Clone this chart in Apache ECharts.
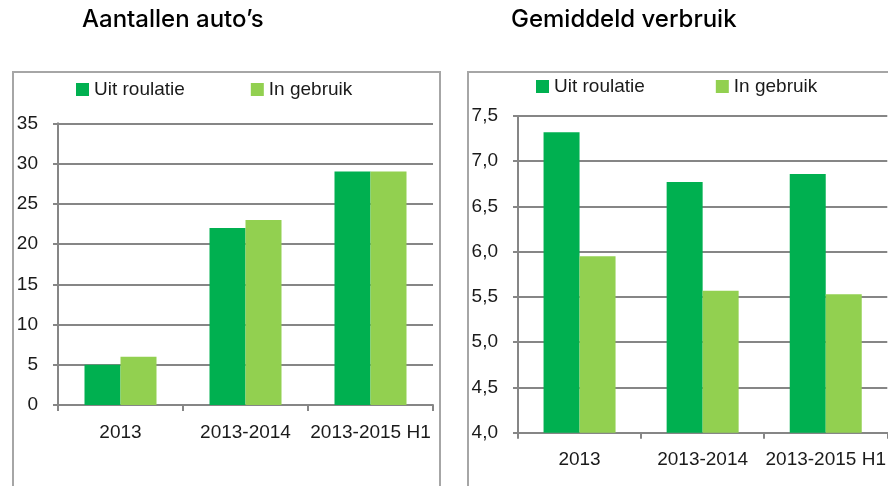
<!DOCTYPE html>
<html><head><meta charset="utf-8">
<script src="https://cdn.jsdelivr.net/npm/echarts@6/dist/echarts.min.js"></script>
<style>html,body{margin:0;padding:0;background:#fff}#c{width:888px;height:486px}</style>
</head><body><div id="c"></div>
<script>
const categories = ['2013', '2013-2014', '2013-2015 H1'];
const seriesNames = ['Uit roulatie', 'In gebruik'];
const countOut = [5, 22, 29];
const countIn = [6, 23, 29];
const useOut = [7.32, 6.77, 6.86];
const useIn = [5.95, 5.57, 5.53];
const titles = ['Aantallen auto’s', 'Gemiddeld verbruik'];

const FONT = '"Liberation Sans", Arial, sans-serif';
const TFONT = 'Inter, "Liberation Sans", sans-serif';
const DARK = '#00B050', LIGHT = '#92D050';
const AX = '#868686', TXT = '#1a1a1a';

const chart = echarts.init(document.getElementById('c'), null, {renderer: 'canvas'});

function xAxis(gi) {
  return {
    type: 'category', gridIndex: gi, data: categories,
    axisLine: {lineStyle: {color: AX, width: 2}},
    axisTick: {show: true, length: 6, lineStyle: {color: AX, width: 2}},
    axisLabel: {color: TXT, fontSize: 19, fontFamily: FONT, margin: 18, interval: 0}
  };
}
function yAxis(gi, min, max, interval, fmt) {
  return {
    type: 'value', gridIndex: gi, min, max, interval,
    axisLine: {show: true, lineStyle: {color: AX, width: 2}},
    axisTick: {show: true, length: 5, lineStyle: {color: AX, width: 2}},
    splitLine: {show: true, lineStyle: {color: AX, width: 2}},
    axisLabel: {color: TXT, fontSize: 19, fontFamily: FONT, margin: 20, formatter: fmt}
  };
}
function bar(name, data, gi, color) {
  return {
    name, type: 'bar', xAxisIndex: gi, yAxisIndex: gi, data,
    barWidth: 36, barGap: '0%', itemStyle: {color}, animation: false
  };
}

chart.setOption({
  animation: false,
  textStyle: {fontFamily: FONT},
  title: [
    {text: titles[0], left: 82, top: 8, padding: 0, textStyle: {fontSize: 24, fontWeight: 500, color: '#000', fontFamily: TFONT}},
    {text: titles[1], left: 511, top: 8, padding: 0, textStyle: {fontSize: 24, fontWeight: 500, color: '#000', fontFamily: TFONT}}
  ],
  graphic: [
    {type: 'rect', shape: {x: 13, y: 72, width: 427, height: 430}, style: {fill: 'none', stroke: '#a6a6a6', lineWidth: 2}, silent: true, z: -1},
    {type: 'rect', shape: {x: 468, y: 72, width: 440, height: 430}, style: {fill: 'none', stroke: '#a6a6a6', lineWidth: 2}, silent: true, z: -1}
  ],
  legend: [
    {data: seriesNames, left: 76, top: 80, padding: 0, icon: 'rect', itemWidth: 13, itemHeight: 13, itemGap: 66,
     textStyle: {fontSize: 19, color: TXT, fontFamily: FONT}},
    {data: seriesNames, left: 536, top: 77, padding: 0, icon: 'rect', itemWidth: 13, itemHeight: 13, itemGap: 71,
     textStyle: {fontSize: 19, color: TXT, fontFamily: FONT}}
  ],
  grid: [
    {left: 58, top: 123.3, width: 375, height: 281.7, containLabel: false},
    {left: 518, top: 116, width: 375, height: 316.7, containLabel: false}
  ],
  xAxis: [xAxis(0), xAxis(1)],
  yAxis: [
    yAxis(0, 0, 35, 5, v => String(v)),
    yAxis(1, 4, 7.5, 0.5, v => v.toFixed(1).replace('.', ','))
  ],
  series: [
    bar(seriesNames[0], countOut, 0, DARK),
    bar(seriesNames[1], countIn, 0, LIGHT),
    bar(seriesNames[0], useOut, 1, DARK),
    bar(seriesNames[1], useIn, 1, LIGHT)
  ]
});
</script></body></html>
